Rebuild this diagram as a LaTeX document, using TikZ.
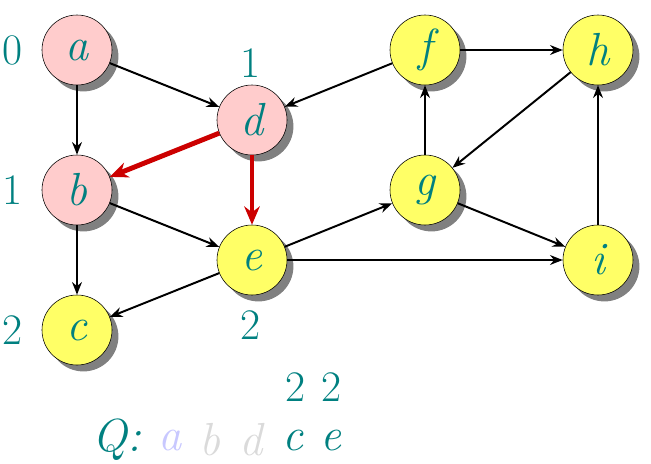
\documentclass[tikz,border=0pt]{standalone}
\usepackage{fontspec}
\usetikzlibrary{shadows,arrows.meta}

\definecolor{verde}{RGB}{0,128,128}
\definecolor{rosa}{RGB}{255,204,204}
\definecolor{amarelo}{RGB}{255,255,102}
\definecolor{vermelho}{RGB}{204,0,0}
\definecolor{lilas}{RGB}{200,200,255}
\definecolor{cinza}{RGB}{218,218,218}

\begin{document}
\begin{tikzpicture}[x=0.025cm, y=-0.025cm,
	vtx/.style={draw, circle, minimum size=1.75cm, inner sep=0pt, text=verde,
		font=\fontsize{33}{36}\selectfont\itshape,
		drop shadow={shadow xshift=0.16cm, shadow yshift=-0.16cm, fill=gray, opacity=1}},
	cinzav/.style={vtx, fill=rosa},
	amarv/.style={vtx, fill=amarelo},
	dist/.style={text=verde, font=\fontsize{31}{34}\selectfont},
	fila/.style={font=\fontsize{33}{36}\selectfont\itshape},
	seta/.style={-{Stealth[length=9pt, width=7pt]}, line width=1.4pt},
	arvore/.style={-{Stealth[length=13pt, width=11pt]}, line width=3.5pt, draw=vermelho}
	]
	\useasboundingbox (0,0) rectangle (651,463);

	\node[cinzav] (a) at (77,50) {a};
	\node[cinzav] (d) at (252,120) {d};
	\node[cinzav] (b) at (77,190) {b};
	\node[amarv] (e) at (252,260) {e};
	\node[amarv] (c) at (77,330) {c};
	\node[amarv] (f) at (425,50) {f};
	\node[amarv] (h) at (598,50) {h};
	\node[amarv] (g) at (425,190) {g};
	\node[amarv] (i) at (598,260) {i};

	\node[dist] (da) at (13,50) {0};
	\node[dist] (dd) at (251,63) {1};
	\node[dist] (db) at (13,190) {1};
	\node[dist] (dc) at (13,330) {2};
	\node[dist] (de) at (251,325) {2};

	\node[dist] (qc2) at (296,387) {2};
	\node[dist] (qe2) at (331,387) {2};
	\node[fila, text=verde] (q) at (117,440) {Q:};
	\node[fila, text=lilas] (qa) at (170,440) {a};
	\node[fila, text=cinza] (qb) at (210,440) {b};
	\node[fila, text=cinza] (qd) at (251,440) {d};
	\node[fila, text=verde] (qc) at (293,440) {c};
	\node[fila, text=verde] (qe) at (331,440) {e};

	\draw[seta] (a) -- (d);
	\draw[seta] (a) -- (b);
	\draw[seta] (b) -- (e);
	\draw[seta] (b) -- (c);
	\draw[seta] (e) -- (c);
	\draw[seta] (e) -- (g);
	\draw[seta] (e) -- (i);
	\draw[seta] (f) -- (d);
	\draw[seta] (f) -- (h);
	\draw[seta] (g) -- (f);
	\draw[seta] (h) -- (g);
	\draw[seta] (g) -- (i);
	\draw[seta] (i) -- (h);
	\draw[arvore] (d) -- (b);
	\draw[arvore] (d) -- (e);
\end{tikzpicture}
\end{document}
